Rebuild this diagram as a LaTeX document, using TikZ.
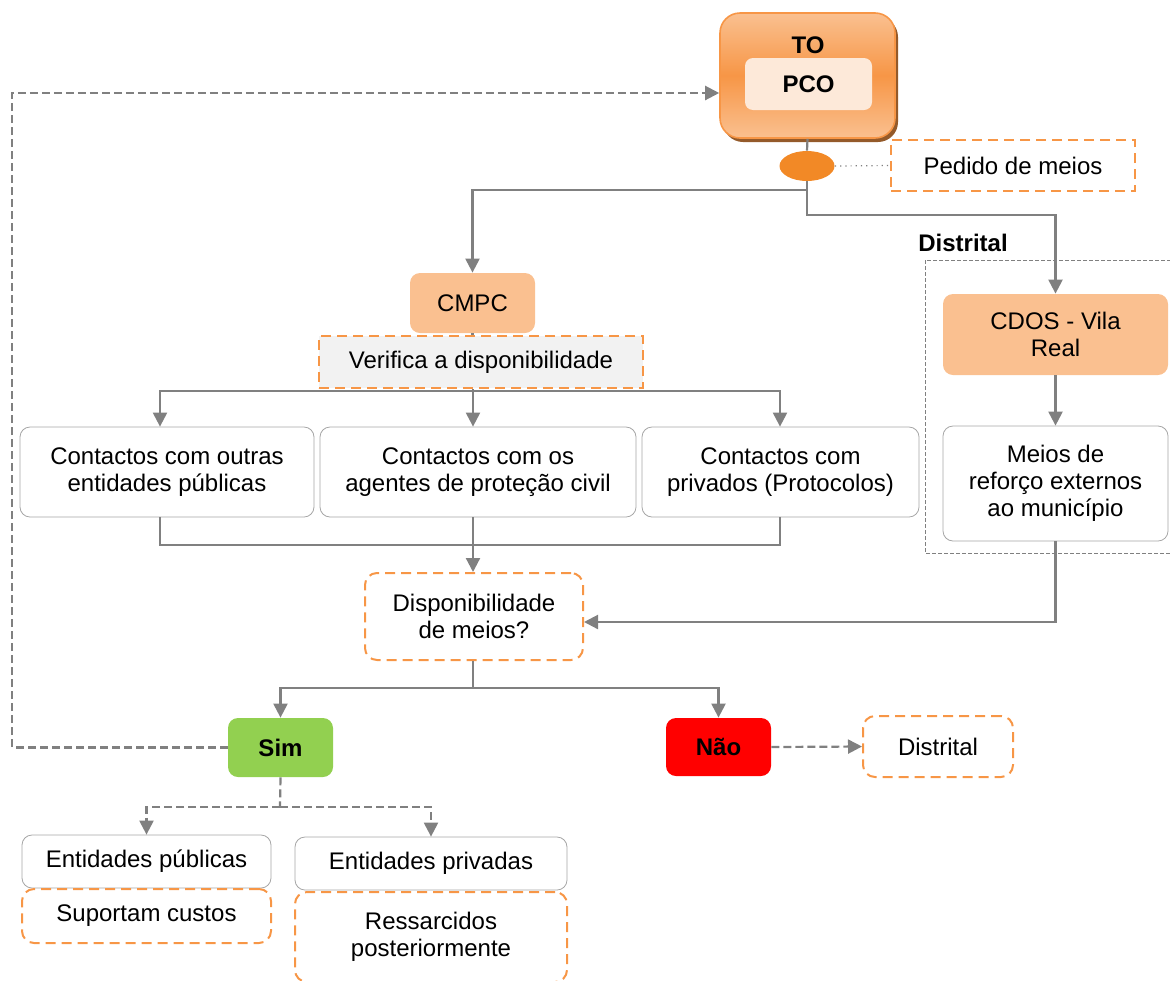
\documentclass[tikz,border=0pt]{standalone}
\usepackage{fontspec}
\setmainfont{Liberation Sans}
\usetikzlibrary{arrows.meta, shadows, shapes.geometric}
\definecolor{linegray}{RGB}{128,128,128}
\definecolor{accent}{RGB}{247,150,70}
\definecolor{peach}{RGB}{250,192,144}
\definecolor{deeporange}{RGB}{242,137,38}
\definecolor{simgreen}{RGB}{146,208,80}
\definecolor{panelgray}{RGB}{242,242,242}
\definecolor{pcofill}{RGB}{253,233,217}

\begin{document}
\begin{tikzpicture}[
    x=0.5pt, y=-0.5pt,
    font=\fontsize{12}{13.5}\selectfont,
    box/.style={draw=linegray!70, fill=white, rounded corners=5pt, align=center, inner sep=2pt},
    filled/.style={rounded corners=5pt, align=center, inner sep=2pt},
    note/.style={draw=accent, line width=1pt, dash pattern=on 5pt off 3pt, align=center, inner sep=2pt},
    link/.style={draw=linegray, line width=1.1pt},
    arrow/.style={link, -{Triangle[length=7pt,width=7pt]}},
    dasharrow/.style={arrow, dash pattern=on 4pt off 2pt},
    dashlink/.style={link, dash pattern=on 4pt off 2pt}
]
    \useasboundingbox (0,0) rectangle (1170,980);

    % Top: TO / PCO
    \node[rounded corners=10pt, draw=accent, line width=0.8pt,
          top color=peach, bottom color=peach, middle color=accent,
          drop shadow={fill=accent!60!black, shadow xshift=1.5pt, shadow yshift=-2pt, opacity=1},
          minimum width=87.5pt, minimum height=62.5pt] (to) at (807.5,75.5) {};
    \node[font=\fontsize{12}{13.5}\selectfont\bfseries] (tolabel) at (808,45) {TO};
    \node[fill=pcofill, rounded corners=4pt, minimum width=63.5pt, minimum height=26pt,
          font=\fontsize{12}{13.5}\selectfont\bfseries] (pco) at (808.5,84) {PCO};

    \node[ellipse, fill=deeporange, minimum width=27.5pt, minimum height=15pt, inner sep=0pt] (ell) at (807,166) {};
    \node[note, minimum width=122pt, minimum height=25.5pt] (pedido) at (1013,165.5) {Pedido de meios};

    % Distrital
    \draw[linegray, line width=0.5pt, dash pattern=on 2pt off 1pt] (925,260) rectangle (1175,553);
    \node[font=\fontsize{12}{13.5}\selectfont\bfseries] (distlabel) at (963,243) {Distrital};
    \node[filled, fill=peach, minimum width=112.5pt, minimum height=40.5pt] (cdos) at (1055.5,334.5) {CDOS - Vila\\Real};
    \node[box, minimum width=112.5pt, minimum height=57.5pt] (meios) at (1055.5,483.5) {Meios de\\reforço externos\\ao município};

    % Municipal
    \node[filled, fill=peach, minimum width=62.5pt, minimum height=30pt] (cmpc) at (472.5,303) {CMPC};
    \node[note, fill=panelgray, minimum width=162pt, minimum height=26pt] (verifica) at (481,362) {Verifica a disponibilidade};

    \node[box, minimum width=147pt, minimum height=45pt] (ctA) at (167,472) {Contactos com outras\\entidades públicas};
    \node[box, minimum width=158pt, minimum height=45pt] (ctB) at (478,472) {Contactos com os\\agentes de proteção civil};
    \node[box, minimum width=138.5pt, minimum height=45pt] (ctC) at (780.5,472) {Contactos com\\privados (Protocolos)};

    \node[note, rounded corners=6pt, minimum width=109pt, minimum height=43.5pt] (disp) at (474,616.5) {Disponibilidade\\de meios?};

    \node[filled, fill=simgreen, minimum width=52.5pt, minimum height=29.5pt, font=\fontsize{12}{13.5}\selectfont\bfseries] (sim) at (280.5,747.5) {Sim};
    \node[filled, fill=red, minimum width=52.5pt, minimum height=29pt, font=\fontsize{12}{13.5}\selectfont\bfseries] (nao) at (718.5,747) {Não};
    \node[note, rounded corners=6pt, minimum width=75pt, minimum height=30.5pt] (distr) at (938,746.5) {Distrital};

    \node[box, minimum width=124.5pt, minimum height=26.5pt] (entpub) at (146.5,861.5) {Entidades públicas};
    \node[note, rounded corners=6pt, minimum width=124.5pt, minimum height=27pt] (custos) at (146.5,916) {Suportam custos};
    \node[box, minimum width=136pt, minimum height=26.5pt] (entpriv) at (431,863.5) {Entidades privadas};
    \node[note, rounded corners=6pt, minimum width=136pt, minimum height=45pt] (ressarc) at (431,937) {Ressarcidos\\posteriormente};

    % Junction points
    \coordinate (split) at (807,190);
    \coordinate (bend) at (807,215);
    \coordinate (bus) at (473,391);
    \coordinate (colA) at (160,0);
    \coordinate (colB) at (473,0);
    \coordinate (colC) at (780,0);
    \coordinate (join) at (473,545);
    \coordinate (fork) at (473,688);
    \coordinate (entry) at (0,622);
    \coordinate (back) at (12,93);
    \coordinate (fork2) at (280,807);

    % Connectors
    \draw[link] (to.south) -- (ell.north);
    \draw[linegray, line width=0.6pt, dotted] (ell.east) -- (pedido.west);
    \draw[arrow] (ell.south) -- (split) -| (cmpc.north);
    \draw[arrow] (split) -- (bend) -| (cdos.north);
    \draw[arrow] (cdos.south) -- (meios.north);
    \draw[arrow] (meios.south) |- (entry -| disp.east);

    \draw[link] (cmpc.south) -- (verifica.north -| cmpc.south);
    \draw[link] (verifica.south -| bus) -- (bus);
    \draw[arrow] (bus) -| (colA |- ctA.north);
    \draw[arrow] (bus) -- (colB |- ctB.north);
    \draw[arrow] (bus) -| (colC |- ctC.north);

    \draw[link] (colA |- ctA.south) |- (join);
    \draw[link] (colC |- ctC.south) |- (join);
    \draw[link] (colB |- ctB.south) -- (join);
    \draw[arrow] (join) -- (join |- disp.north);

    \draw[link] (fork |- disp.south) -- (fork);
    \draw[arrow] (fork) -| (sim.north);
    \draw[arrow] (fork) -| (nao.north);
    \draw[dasharrow] (nao.east) -- (distr.west);
    \draw[dasharrow] (sim.west) -| (back) -- (back -| to.west);

    \draw[dashlink] (sim.south) -- (fork2);
    \draw[dasharrow] (fork2) -| (entpub.north);
    \draw[dasharrow] (fork2) -| (entpriv.north);
\end{tikzpicture}
\end{document}
